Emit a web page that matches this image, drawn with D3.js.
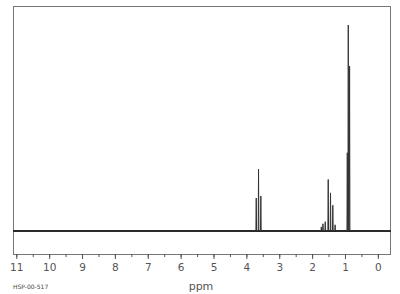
<!DOCTYPE html>
<html>
<head>
<meta charset="utf-8">
<script src="https://cdn.jsdelivr.net/npm/d3@7"></script>
<style>
  body { margin: 0; background: #fff; }
  svg { display: block; }
</style>
</head>
<body>
<div id="chart"></div>
<script>
// peak positions (ppm) and heights (relative intensity, tallest = 100)
const peakPpm    = [3.70, 3.63, 3.56, 1.72, 1.67, 1.60, 1.51, 1.44, 1.37, 1.30, 0.93, 0.90, 0.86];
const peakHeight = [16,   30,   17,   2,    3.5,  4.5,  25,   18.5, 12.5, 3,    38,   100,  80];
const tickValues = [11, 10, 9, 8, 7, 6, 5, 4, 3, 2, 1, 0];
const sampleId = 'HSP-00-517';

const width = 400, height = 294;
const frame = { left: 13, right: 391, top: 6, bottom: 254 };

const svg = d3.select('#chart').append('svg')
    .attr('width', width)
    .attr('height', height);

const x = d3.scaleLinear()
    .domain([11.1, -0.4])
    .range([frame.left, frame.right]);

const y = d3.scaleLinear()
    .domain([0, 100])
    .range([231, 25]);

// 外框
svg.append('rect')
    .attr('x', frame.left + 0.5)
    .attr('y', frame.top + 0.5)
    .attr('width', frame.right - frame.left - 1)
    .attr('height', frame.bottom - frame.top)
    .attr('fill', 'none')
    .attr('stroke', '#777')
    .attr('stroke-width', 1);

// spectrum path: flat baseline with a narrow spike per peak
const w = 0.01;
const pts = [[x.domain()[0], 0]];
peakPpm.forEach((p, i) => {
    pts.push([p + w, 0], [p, peakHeight[i]], [p - w, 0]);
});
pts.push([x.domain()[1], 0]);

const line = d3.line()
    .x(d => x(d[0]))
    .y(d => y(d[1]));

// thicker baseline (the noisy trace)
svg.append('line')
    .attr('x1', x(x.domain()[0]))
    .attr('x2', x(x.domain()[1]))
    .attr('y1', y(0))
    .attr('y2', y(0))
    .attr('stroke', '#222')
    .attr('stroke-width', 2);

svg.append('path')
    .datum(pts)
    .attr('d', line)
    .attr('fill', 'none')
    .attr('stroke', '#333')
    .attr('stroke-width', 1)
    .attr('stroke-linejoin', 'round');

// 坐标轴
const axis = svg.append('g')
    .attr('transform', `translate(0,${frame.bottom})`);

axis.append('g')
    .call(d3.axisBottom(x).tickValues(d3.range(0, 11.5, 0.5)).tickSize(3).tickFormat(''))
    .call(g => g.select('.domain').remove())
    .selectAll('line').attr('stroke', '#555');

axis.append('g')
    .call(d3.axisBottom(x).tickValues(tickValues).tickSize(5).tickPadding(5).tickFormat(d3.format('d')))
    .call(g => g.select('.domain').remove())
    .call(g => g.selectAll('line').attr('stroke', '#555'))
    .selectAll('text')
    .attr('font-family', 'DejaVu Sans, sans-serif')
    .attr('font-size', 10.5)
    .attr('fill', '#555');

svg.append('text')
    .attr('x', 201)
    .attr('y', 290)
    .attr('text-anchor', 'middle')
    .attr('font-family', 'DejaVu Sans, sans-serif')
    .attr('font-size', 11)
    .attr('fill', '#555')
    .text('ppm');

svg.append('text')
    .attr('x', 13)
    .attr('y', 289)
    .attr('font-family', 'DejaVu Sans, sans-serif')
    .attr('font-size', 6)
    .attr('fill', '#444')
    .text(sampleId);
</script>
</body>
</html>
